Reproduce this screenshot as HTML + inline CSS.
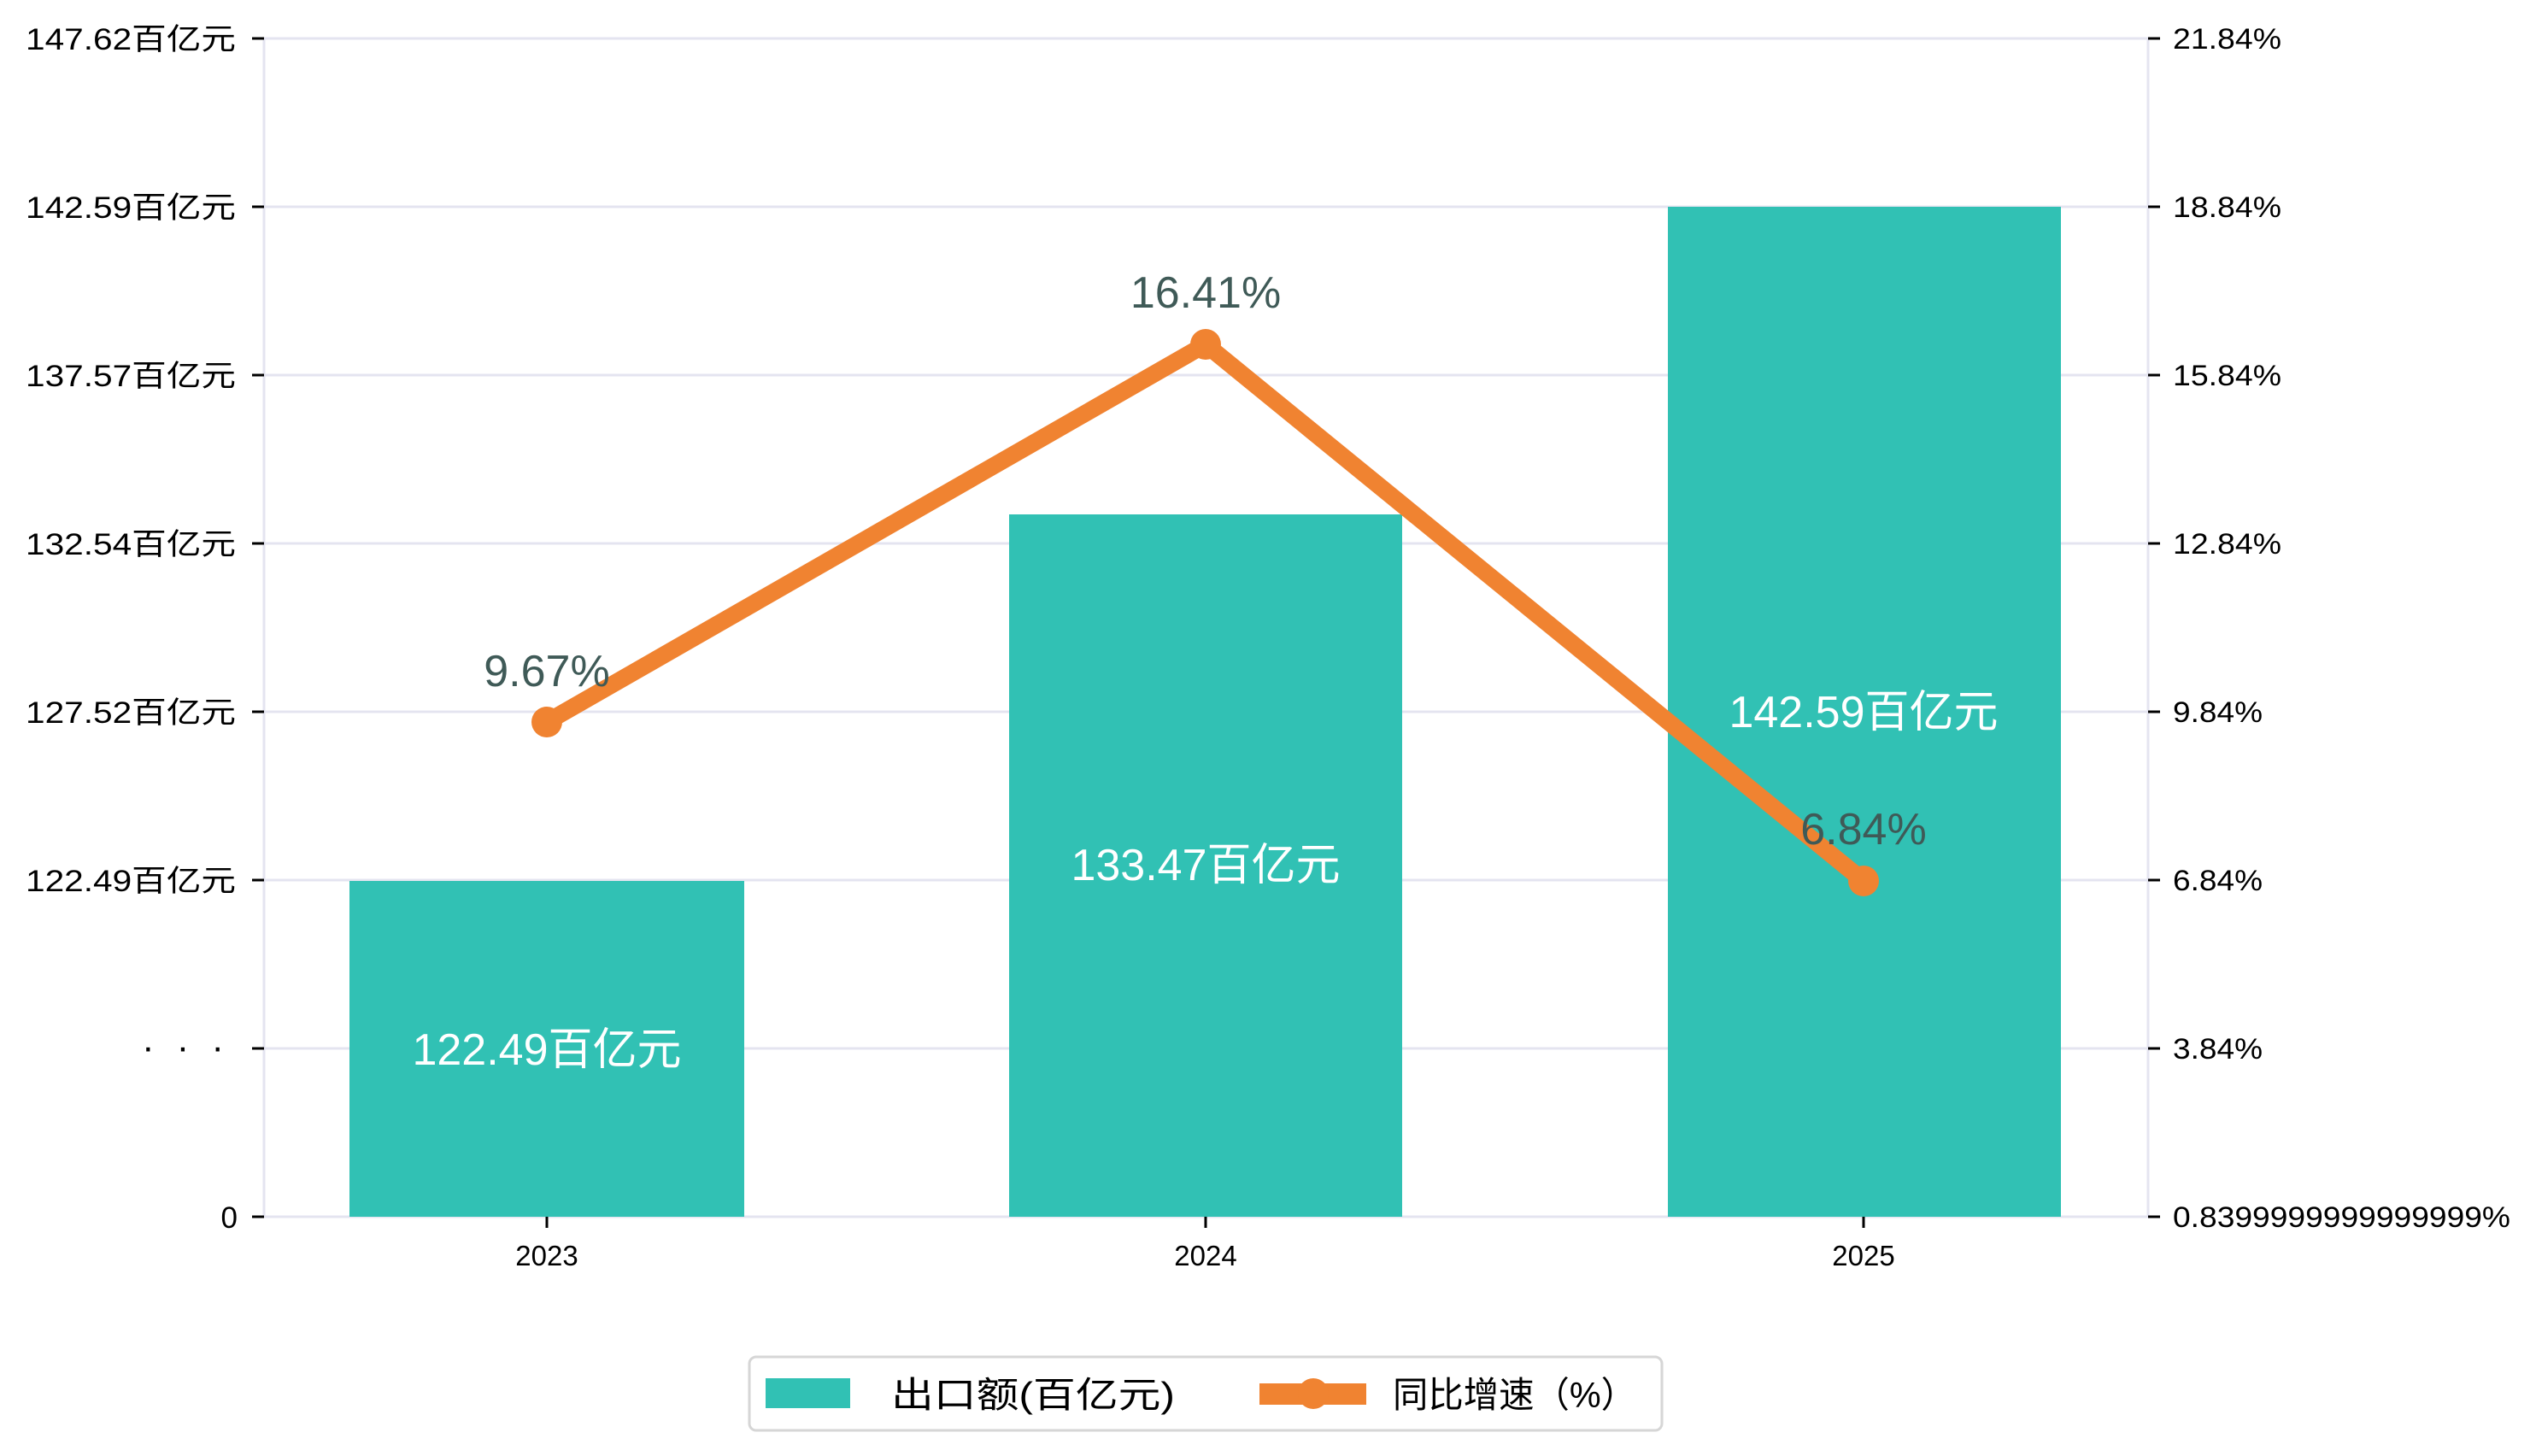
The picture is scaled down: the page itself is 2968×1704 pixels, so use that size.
<!DOCTYPE html>
<html><head><meta charset="utf-8"><style>
html,body{margin:0;padding:0;background:#fff;}
svg{display:block;}
text{font-family:"Liberation Sans","WenQuanYi Zen Hei","Noto Sans CJK SC",sans-serif;}
</style></head><body>
<svg width="2968" height="1704" viewBox="0 0 2968 1704" xmlns="http://www.w3.org/2000/svg">
<rect width="2968" height="1704" fill="#fff"/>
<g stroke="#e4e4f0" stroke-width="3">
<line x1="309" y1="45" x2="2514" y2="45"/>
<line x1="309" y1="242" x2="2514" y2="242"/>
<line x1="309" y1="439" x2="2514" y2="439"/>
<line x1="309" y1="636" x2="2514" y2="636"/>
<line x1="309" y1="833" x2="2514" y2="833"/>
<line x1="309" y1="1030" x2="2514" y2="1030"/>
<line x1="309" y1="1227" x2="2514" y2="1227"/>
<line x1="309" y1="1424" x2="2514" y2="1424"/>
<line x1="309" y1="45" x2="309" y2="1424"/>
<line x1="2514" y1="45" x2="2514" y2="1424"/>
</g>
<g stroke="#000" stroke-width="3">
<line x1="295" y1="45" x2="309" y2="45"/><line x1="295" y1="242" x2="309" y2="242"/>
<line x1="295" y1="439" x2="309" y2="439"/><line x1="295" y1="636" x2="309" y2="636"/>
<line x1="295" y1="833" x2="309" y2="833"/><line x1="295" y1="1030" x2="309" y2="1030"/>
<line x1="295" y1="1227" x2="309" y2="1227"/><line x1="295" y1="1424" x2="309" y2="1424"/>
<line x1="2514" y1="45" x2="2528" y2="45"/><line x1="2514" y1="242" x2="2528" y2="242"/>
<line x1="2514" y1="439" x2="2528" y2="439"/><line x1="2514" y1="636" x2="2528" y2="636"/>
<line x1="2514" y1="833" x2="2528" y2="833"/><line x1="2514" y1="1030" x2="2528" y2="1030"/>
<line x1="2514" y1="1227" x2="2528" y2="1227"/><line x1="2514" y1="1424" x2="2528" y2="1424"/>
<line x1="640" y1="1424" x2="640" y2="1437"/><line x1="1411" y1="1424" x2="1411" y2="1437"/><line x1="2181" y1="1424" x2="2181" y2="1437"/>
</g>
<g font-size="35" fill="#000">
<text x="30" y="58" textLength="246" lengthAdjust="spacingAndGlyphs">147.62百亿元</text>
<text x="30" y="255" textLength="246" lengthAdjust="spacingAndGlyphs">142.59百亿元</text>
<text x="30" y="452" textLength="246" lengthAdjust="spacingAndGlyphs">137.57百亿元</text>
<text x="30" y="649" textLength="246" lengthAdjust="spacingAndGlyphs">132.54百亿元</text>
<text x="30" y="846" textLength="246" lengthAdjust="spacingAndGlyphs">127.52百亿元</text>
<text x="30" y="1043" textLength="246" lengthAdjust="spacingAndGlyphs">122.49百亿元</text>
<text x="166" y="1240" font-size="44" textLength="96" lengthAdjust="spacing">···</text>
<text x="278" y="1437" text-anchor="end">0</text>
</g>
<g font-size="34" fill="#000">
<text x="2543" y="57" textLength="127" lengthAdjust="spacingAndGlyphs">21.84%</text>
<text x="2543" y="254" textLength="127" lengthAdjust="spacingAndGlyphs">18.84%</text>
<text x="2543" y="451" textLength="127" lengthAdjust="spacingAndGlyphs">15.84%</text>
<text x="2543" y="648" textLength="127" lengthAdjust="spacingAndGlyphs">12.84%</text>
<text x="2543" y="845" textLength="105" lengthAdjust="spacingAndGlyphs">9.84%</text>
<text x="2543" y="1042" textLength="105" lengthAdjust="spacingAndGlyphs">6.84%</text>
<text x="2543" y="1239" textLength="105" lengthAdjust="spacingAndGlyphs">3.84%</text>
<text x="2543" y="1436" textLength="395" lengthAdjust="spacingAndGlyphs">0.8399999999999999%</text>
</g>
<g font-size="33" fill="#000" text-anchor="middle">
<text x="640" y="1481">2023</text>
<text x="1411" y="1481">2024</text>
<text x="2181" y="1481">2025</text>
</g>
<g fill="#31c1b4">
<rect x="409" y="1031" width="462" height="393"/>
<rect x="1181" y="602" width="460" height="822"/>
<rect x="1952" y="242" width="460" height="1182"/>
</g>
<g font-size="52" fill="#fff" text-anchor="middle">
<text x="640" y="1246">122.49百亿元</text>
<text x="1411" y="1030">133.47百亿元</text>
<text x="2181" y="851">142.59百亿元</text>
</g>
<polyline points="640,845 1411,403 2181,1031" fill="none" stroke="#f08331" stroke-width="20" stroke-linejoin="miter"/>
<g fill="#f08331">
<circle cx="640" cy="845" r="18"/><circle cx="1411" cy="403" r="18"/><circle cx="2181" cy="1031" r="18"/>
</g>
<g font-size="52" fill="#3f5a57" text-anchor="middle">
<text x="640" y="803">9.67%</text>
<text x="1411" y="360">16.41%</text>
<text x="2181" y="988">6.84%</text>
</g>
<rect x="877" y="1588" width="1068" height="86" rx="8" fill="#fff" stroke="#d6d6d6" stroke-width="3"/>
<rect x="896" y="1613" width="99" height="35" fill="#31c1b4"/>
<text x="1043" y="1647" font-size="42" fill="#000" textLength="332" lengthAdjust="spacingAndGlyphs">出口额(百亿元)</text>
<rect x="1474" y="1619" width="125" height="25" fill="#f08331"/>
<circle cx="1537" cy="1631" r="18" fill="#f08331"/>
<text x="1630" y="1647" font-size="42" fill="#000" textLength="285" lengthAdjust="spacingAndGlyphs">同比增速（%）</text>
</svg>
</body></html>
